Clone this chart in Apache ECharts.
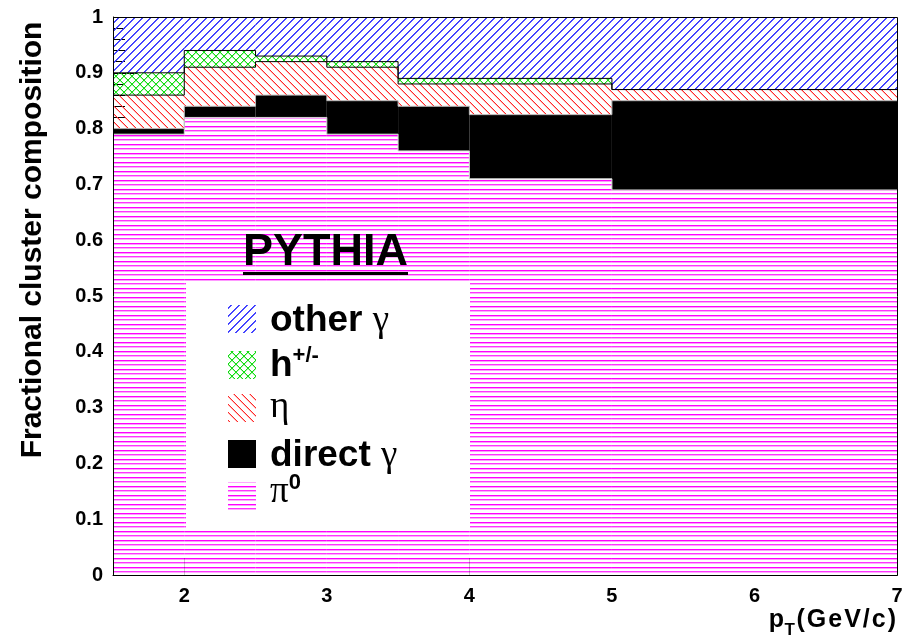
<!DOCTYPE html>
<html><head><meta charset="utf-8">
<script src="https://cdn.jsdelivr.net/npm/echarts@6/dist/echarts.min.js"></script>
<style>html,body{margin:0;padding:0;background:#fff}#c{width:910px;height:644px}</style>
</head><body><div id="c"></div>
<script>
// ---- data ----
const binEdges    = [1.5, 2, 2.5, 3, 3.5, 4, 5, 7];
const pi0         = [0.79, 0.82, 0.82, 0.79, 0.76, 0.71, 0.69];
const directGamma = [0.01, 0.02, 0.04, 0.06, 0.08, 0.115, 0.16];
const eta         = [0.06, 0.07, 0.06, 0.06, 0.04, 0.055, 0.02];
const hadrons     = [0.04, 0.03, 0.01, 0.01, 0.01, 0.01, 0.0];
const otherGamma  = [0.10, 0.06, 0.07, 0.08, 0.11, 0.11, 0.13];
const xTickValues = [2, 3, 4, 5, 6, 7];
const yTickLabels = ['0','0.1','0.2','0.3','0.4','0.5','0.6','0.7','0.8','0.9','1'];

// ---- patterns ----
function rgba(rgb, a) { return 'rgba(' + rgb.join(',') + ',' + a + ')'; }
function hatch(rgb, dirs, s, a2) {
  const c = document.createElement('canvas'); c.width = s; c.height = s;
  const g = c.getContext('2d');
  g.clearRect(0, 0, s, s);
  for (let i = 0; i < s; i++) {
    if (dirs.indexOf('/') >= 0) {
      g.fillStyle = rgba(rgb, 1);  g.fillRect(i, s - 1 - i, 1, 1);
      g.fillStyle = rgba(rgb, a2); g.fillRect(i, (s - i) % s, 1, 1);
    }
    if (dirs.indexOf('\\') >= 0) {
      g.fillStyle = rgba(rgb, 1);  g.fillRect(i, i, 1, 1);
      g.fillStyle = rgba(rgb, a2); g.fillRect(i, (i + 1) % s, 1, 1);
    }
  }
  return {image: c, repeat: 'repeat'};
}
function stripes() {
  const c = document.createElement('canvas'); c.width = 4; c.height = 9;
  const g = c.getContext('2d');
  g.fillStyle = '#ffffff'; g.fillRect(0,0,4,9);
  g.fillStyle = '#ff00ff'; g.fillRect(0,0,4,1);
  g.fillStyle = '#ff99ff'; g.fillRect(0,1,4,1);
  g.fillStyle = '#ff33ff'; g.fillRect(0,4,4,1);
  g.fillStyle = '#ffaaff'; g.fillRect(0,5,4,1);
  return {image: c, repeat: 'repeat'};
}
const patEta   = hatch([255, 40, 40], '\\', 8, 0.35);
const patH     = hatch([20, 220, 20], '/\\', 8, 0.35);
const patOther = hatch([60, 60, 255], '/', 8, 0.9);
const patPi0   = stripes();

// ---- build stacked rects ----
const comps = [
  {name: 'pi0',    vals: pi0,         fill: patPi0,    line: '#d8d8d8'},
  {name: 'direct', vals: directGamma, fill: '#000000', line: '#bbbbbb'},
  {name: 'eta',    vals: eta,         fill: patEta,    line: '#000000'},
  {name: 'h',      vals: hadrons,     fill: patH,      line: '#000000'},
  {name: 'other',  vals: otherGamma,  fill: patOther,  line: null}
];
const base = pi0.map(() => 0);
const series = [];
comps.forEach((cp, ci) => {
  const rows = [];
  const tops = [];
  for (let i = 0; i < cp.vals.length; i++) {
    const b = base[i], t = b + cp.vals[i];
    rows.push([binEdges[i], binEdges[i+1], b, t]);
    tops.push(t); base[i] = t;
  }
  series.push({
    type: 'custom', name: cp.name, silent: true, z: 2 + ci * 0.01,
    encode: {x: [0, 1], y: [2, 3]},
    data: rows,
    renderItem: (params, api) => {
      const p0 = api.coord([api.value(0), api.value(3)]);
      const p1 = api.coord([api.value(1), api.value(2)]);
      return {type: 'rect', shape: {x: p0[0], y: p0[1], width: p1[0]-p0[0], height: p1[1]-p0[1]},
              style: {fill: cp.fill, stroke: null}};
    }
  });
  if (cp.line) {
    const pts = tops.map((t, i) => [binEdges[i], t]);
    pts.push([binEdges[binEdges.length-1], tops[tops.length-1]]);
    series.push({type: 'line', step: 'end', data: pts, symbol: 'none', silent: true, z: 3 + ci*0.01,
                 lineStyle: {color: cp.line, width: 1}, animation: false});
  }
});

// ---- text helpers ----
const mctx = document.createElement('canvas').getContext('2d');
function tw(font, s) { mctx.font = font; return mctx.measureText(s).width; }
const SANS = '"Liberation Sans", Arial, sans-serif';
const SERIF = '"Liberation Serif", "DejaVu Serif", serif';
function txt(x, baseline, s, font, size, extra) {
  return Object.assign({type: 'text', z: 101, silent: true, x: x, y: baseline - 0.33*size,
    style: {text: s, font: font, fill: '#000', textAlign: 'left', textVerticalAlign: 'middle'}}, extra || {});
}
function segFont(sg) { return (sg.bold ? 'bold ' : '') + sg.size + 'px ' + (sg.serif ? SERIF : SANS); }
function segWidth(sg) {
  const f = segFont(sg);
  if (!sg.sp) return tw(f, sg.t);
  let w = 0; for (const ch of sg.t) w += tw(f, ch) + sg.sp; return w;
}
function run(x, baseline, segs) {
  const out = []; let cx = x;
  segs.forEach(sg => {
    const f = segFont(sg);
    if (sg.sp) {
      for (const ch of sg.t) { out.push(txt(cx, baseline + (sg.dy || 0), ch, f, sg.size)); cx += tw(f, ch) + sg.sp; }
    } else {
      out.push(txt(cx, baseline + (sg.dy || 0), sg.t, f, sg.size));
      cx += tw(f, sg.t);
    }
  });
  return out;
}
function runWidth(segs) { let w = 0; segs.forEach(sg => { w += segWidth(sg); }); return w; }

const LS = 37;
const graphics = [];
// legend box
graphics.push({type: 'rect', z: 100, silent: true, shape: {x: 186, y: 283, width: 284, height: 247}, style: {fill: '#ffffff'}});
const legendRows = [
  {fill: patOther,  y: 305, base: 333, segs: [{t: 'other ', bold: true, size: LS}, {t: 'γ', serif: true, size: LS}]},
  {fill: patH,      y: 351, base: 378, segs: [{t: 'h', bold: true, size: LS}, {t: '+/-', bold: true, size: 22, dy: -15}]},
  {fill: patEta,    y: 394, base: 419, segs: [{t: 'η', serif: true, size: LS}]},
  {fill: '#000000', y: 440, base: 468, segs: [{t: 'direct ', bold: true, size: LS}, {t: 'γ', serif: true, size: LS}]},
  {fill: patPi0,    y: 482, base: 504, segs: [{t: 'π', serif: true, size: LS}, {t: '0', bold: true, size: 22, dy: -14}]}
];
legendRows.forEach(r => {
  graphics.push({type: 'rect', z: 101, silent: true, shape: {x: 228, y: r.y, width: 28, height: 28}, style: {fill: r.fill}});
  run(270, r.base, r.segs).forEach(e => graphics.push(e));
});
// PYTHIA
graphics.push(Object.assign(txt(243, 267, 'PYTHIA', 'bold 45px ' + SANS, 45), {z: 101}));
graphics.push({type: 'rect', z: 101, silent: true, shape: {x: 243, y: 272, width: tw('bold 45px ' + SANS, 'PYTHIA'), height: 3}, style: {fill: '#000'}});
// y title
graphics.push({type: 'text', z: 101, silent: true, x: 33, y: 240, rotation: Math.PI/2,
  style: {text: 'Fractional cluster composition', font: 'bold 30px ' + SANS, fill: '#000', textAlign: 'center', textVerticalAlign: 'middle'}});
// x title
const xt = [{t: 'p', bold: true, size: 25, sp: 0.5}, {t: 'T', bold: true, size: 17, dy: 8, sp: 1.5}, {t: '(GeV/c)', bold: true, size: 25, sp: 2}];
run(898 - runWidth(xt), 628, xt).forEach(e => graphics.push(e));
// frame
graphics.push({type: 'rect', z: 99, silent: true, shape: {x: 113.5, y: 17.5, width: 784, height: 558}, style: {fill: null, stroke: '#000', lineWidth: 1}});

const chart = echarts.init(document.getElementById('c'), null, {renderer: 'canvas'});
chart.setOption({
  animation: false,
  backgroundColor: '#ffffff',
  grid: {left: 113, right: 13, top: 17, bottom: 69, containLabel: false},
  xAxis: {
    type: 'value', min: binEdges[0], max: binEdges[binEdges.length-1],
    axisLine: {show: true, lineStyle: {color: '#000', width: 1}},
    axisTick: {show: true, inside: true, length: 17, customValues: xTickValues, lineStyle: {color: '#000'}},
    axisLabel: {customValues: xTickValues, color: '#000', fontWeight: 'bold', fontSize: 20, fontFamily: SANS, margin: 11,
                formatter: v => String(v)},
    splitLine: {show: false}
  },
  yAxis: {
    type: 'value', min: 0, max: 1, interval: 0.1,
    axisLine: {show: true, lineStyle: {color: '#000', width: 1}},
    axisTick: {show: true, inside: true, length: 24, lineStyle: {color: '#000'}},
    minorTick: {show: true, splitNumber: 5, length: 12, lineStyle: {color: '#000'}},
    axisLabel: {color: '#000', fontWeight: 'bold', fontSize: 20, fontFamily: SANS, margin: 10,
                formatter: v => yTickLabels[Math.round(v * 10)]},
    splitLine: {show: false}
  },
  series: series,
  graphic: {elements: graphics}
});
</script>
</body></html>
